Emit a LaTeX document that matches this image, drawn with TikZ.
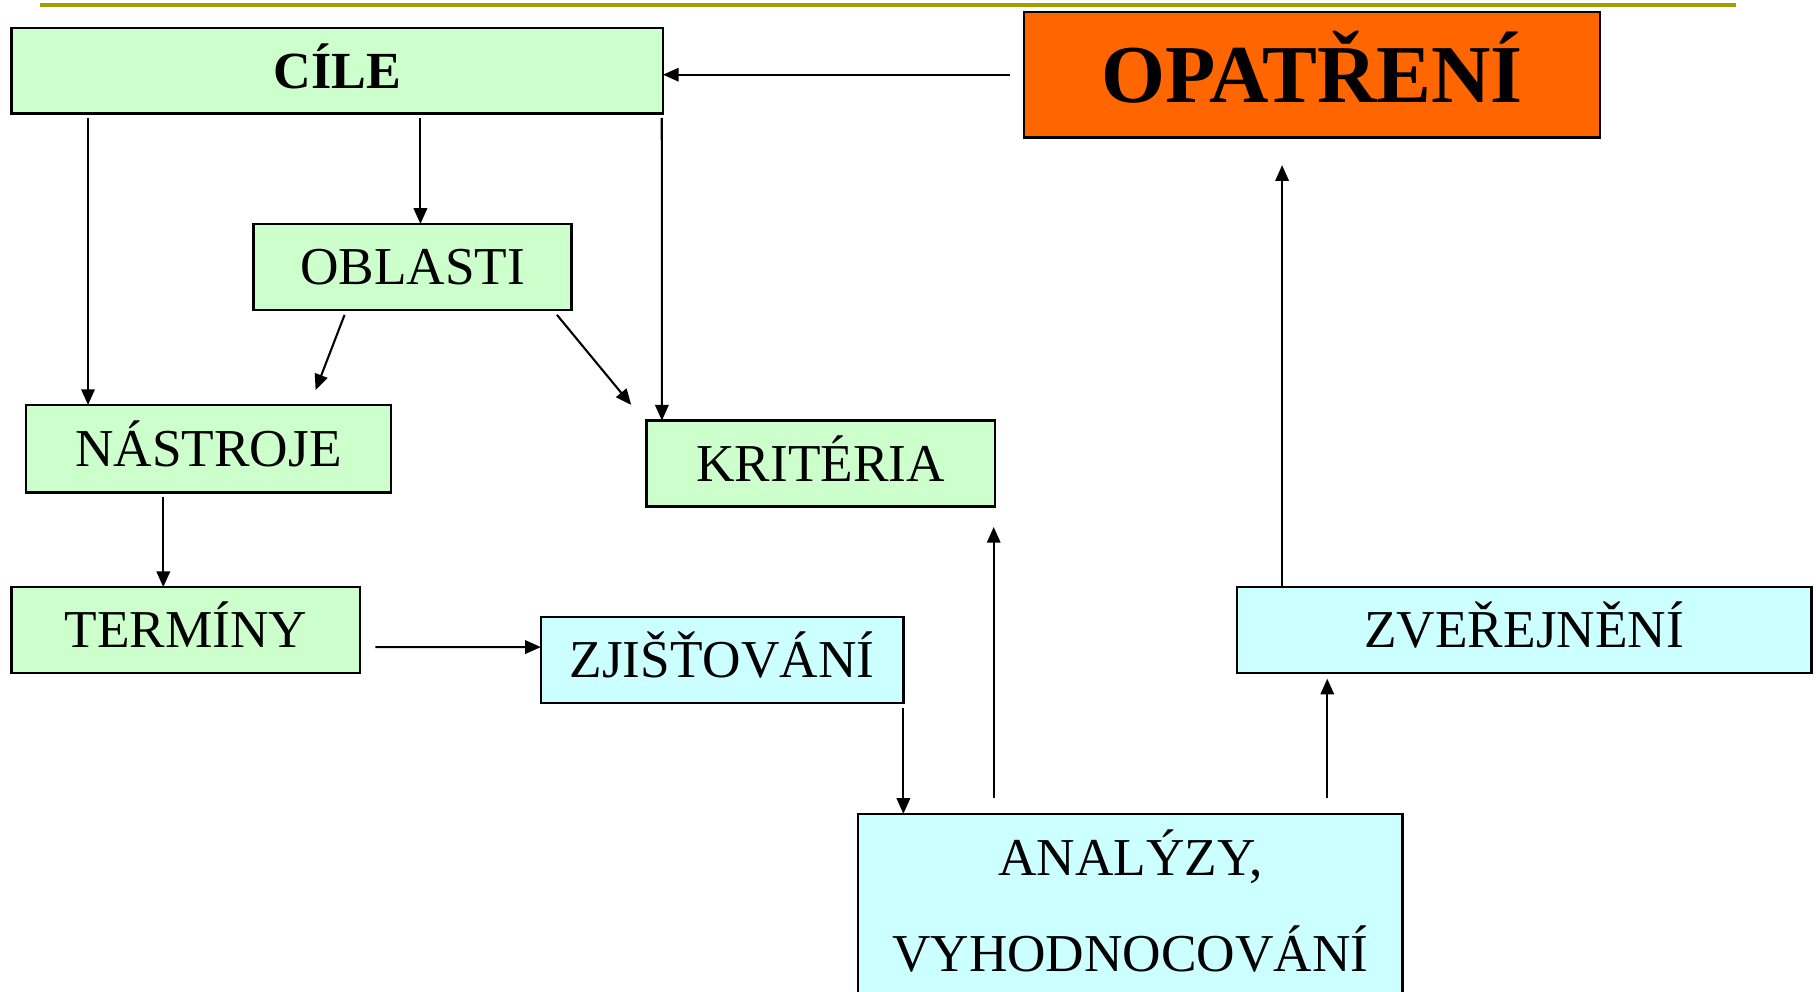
\documentclass[tikz,border=0pt]{standalone}
\usepackage{fontspec}
\setmainfont{Liberation Serif}
\usetikzlibrary{arrows.meta,calc}
\definecolor{gfill}{HTML}{CCFFCC}
\definecolor{cfill}{HTML}{CCFFFF}
\definecolor{ofill}{HTML}{FF6600}
\definecolor{rulecol}{HTML}{9F9F00}
\begin{document}
\begin{tikzpicture}[x=0.5pt,y=-0.5pt,
  box/.style={draw=black, line width=1.1pt, rectangle, inner sep=0pt, outer sep=0pt,
    font=\fontsize{23}{27}\selectfont, text height=15.2pt, text depth=0pt},
  gbox/.style={box, fill=gfill},
  cbox/.style={box, fill=cfill},
  boldtxt/.style={font=\bfseries\fontsize{22.5}{27}\selectfont},
  plain/.style={inner sep=0pt, outer sep=0pt, font=\fontsize{23}{27}\selectfont},
  arr/.style={-{Triangle[length=6.8pt,width=5.8pt]}, line width=0.9pt}
]
\useasboundingbox (0,0) rectangle (1568,856);
\clip (0,0) rectangle (1568,856);
% top rule
\draw[rulecol, line width=1.8pt] (34.5,4.3) -- (1499,4.3);
% boxes
\node[gbox, boldtxt, minimum width=281.2pt, minimum height=36.8pt] (cile) at (291.2,61) {CÍLE};
\node[box, fill=ofill, minimum width=248.8pt, minimum height=54.1pt,
  font=\bfseries\fontsize{35.5}{40}\selectfont, text height=24pt] (opat) at (1132.8,64.5) {OPATŘENÍ};
\node[gbox, minimum width=137.2pt, minimum height=37.1pt] (obl) at (356.2,230.5) {OBLASTI};
\node[gbox, minimum width=157.5pt, minimum height=37.8pt] (nast) at (180,387.5) {NÁSTROJE};
\node[gbox, minimum width=150.5pt, minimum height=37pt] (krit) at (708.5,400.2) {KRITÉRIA};
\node[gbox, minimum width=150.5pt, minimum height=37.1pt] (term) at (160.5,544.1) {TERMÍNY};
\node[cbox, minimum width=156.5pt, minimum height=37.1pt] (zji) at (623.5,569.9) {ZJIŠŤOVÁNÍ};
\node[cbox, minimum width=248pt, minimum height=37pt] (zve) at (1316,544) {ZVEŘEJNĚNÍ};
\node[cbox, minimum width=235pt, minimum height=79.7pt] (ana) at (976,782.4) {};
\node[plain, anchor=base] (anaA) at (976,755.5) {ANALÝZY,};
\node[plain, anchor=base] (anaB) at (976,839) {VYHODNOCOVÁNÍ};
% connectors
\draw[arr] ($(opat.west)+(-12,0)$) -- (opat.west -| cile.east);
\draw[arr] ($(cile.south west)+(66,4)$) -- ($(nast.north west)+(53.5,0)$);
\draw[arr] ($(cile.south west)+(353,4)$) -- ($(obl.north west)+(144,0)$);
\draw[arr] ($(cile.south east)+(-1,4)$) -- ($(krit.north west)+(13.5,0)$);
\draw[arr] ($(obl.south west)+(78.5,4.3)$) -- ($(nast.north west)+(250,-12.9)$);
\draw[arr] ($(obl.south east)+(-12.5,4.3)$) -- ($(krit.north west)+(-13,-13.6)$);
\draw[arr] ($(nast.south west)+(118.5,3.6)$) -- ($(term.north west)+(131,0)$);
\draw[arr] ($(term.south east)+(13,-22.5)$) -- ($(zji.north west)+(0,25.9)$);
\draw[arr] ($(zji.south east)+(0,4.7)$) -- ($(ana.north west)+(39,0)$);
\draw[arr] ($(ana.north west)+(117,-13.3)$) -- ($(krit.south east)+(-1,17.8)$);
\draw[arr] ($(ana.north west)+(405,-13.3)$) -- ($(zve.south west)+(78,5)$);
\draw[arr] ($(zve.north west)+(39,0)$) -- ($(opat.south west)+(223,24)$);
\end{tikzpicture}
\end{document}
